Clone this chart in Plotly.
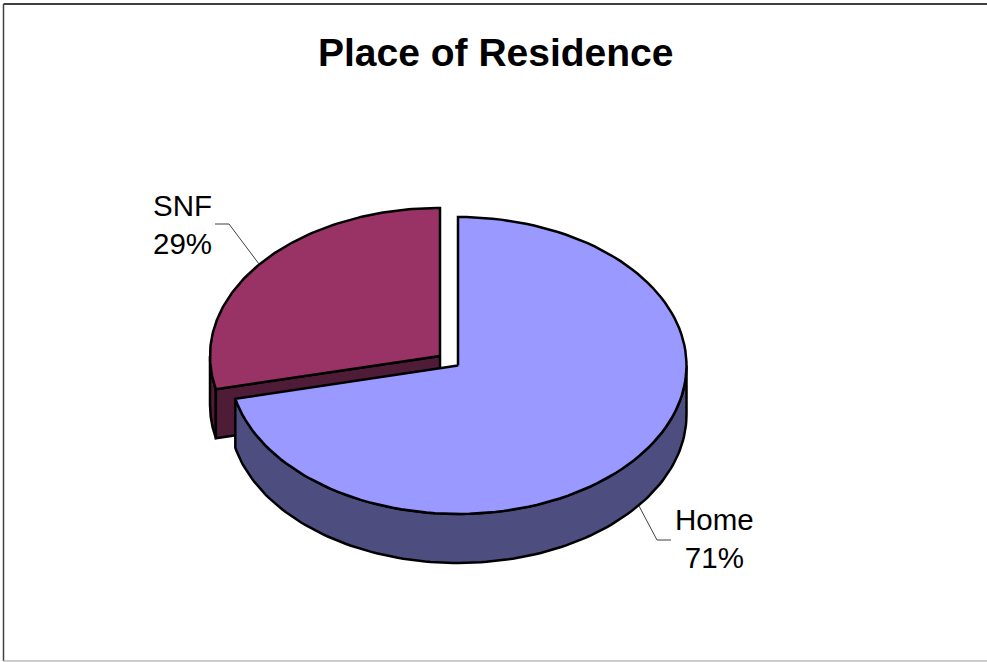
import numpy as np
import plotly.graph_objects as go

categories = ["Home", "SNF"]
values = [71.4, 28.6]
label_text = ["Home<br>71%", "SNF<br>29%"]
title = "Place of Residence"

# pixel geometry of the tilted pie
HOME = dict(cx=458, cy=365.5, rx=228.5, ry=148.5)
SNF = dict(cx=440, cy=356, rx=230, ry=148)
DEPTH = 49
EDGE = 2.5
FONT = "Liberation Sans, Arial, sans-serif"


def arc(g, t0, t1, dy=0, n=120):
    t = np.radians(np.linspace(t0, t1, n))
    return g["cx"] + g["rx"] * np.sin(t), g["cy"] - g["ry"] * np.cos(t) + dy


def top(g, t0, t1, color):
    x, y = arc(g, t0, t1)
    return go.Scatter(x=np.r_[g["cx"], x, g["cx"]], y=np.r_[g["cy"], y, g["cy"]],
                      mode="lines", fill="toself", fillcolor=color,
                      line=dict(color="black", width=EDGE), hoverinfo="skip")


def wall(g, t0, t1, color):
    x0, y0 = arc(g, t0, t1)
    x1, y1 = arc(g, t0, t1, DEPTH)
    return go.Scatter(x=np.r_[x0, x1[::-1], x0[0]], y=np.r_[y0, y1[::-1], y0[0]],
                      mode="lines", fill="toself", fillcolor=color,
                      line=dict(color="black", width=EDGE), hoverinfo="skip")


def cut(g, t, color):
    x, y = arc(g, t, t, n=1)
    xs = [g["cx"], x[0], x[0], g["cx"], g["cx"]]
    ys = [g["cy"], y[0], y[0] + DEPTH, g["cy"] + DEPTH, g["cy"]]
    return go.Scatter(x=xs, y=ys, mode="lines", fill="toself", fillcolor=color,
                      line=dict(color="black", width=EDGE), hoverinfo="skip")


split = 360 * values[0] / sum(values)
fig = go.Figure([
    wall(SNF, split, 270, "#4F1C38"),
    cut(SNF, split, "#4F1C38"),
    top(SNF, split, 360, "#993366"),
    wall(HOME, 90, split, "#4D4D80"),
    top(HOME, 0, split, "#9999FF"),
])

lead = dict(type="line", xref="x", yref="y", line=dict(color="#404040", width=1))
fig.update_layout(
    width=987, height=662, margin=dict(l=0, r=0, t=0, b=0), showlegend=False,
    paper_bgcolor="white", plot_bgcolor="white",
    xaxis=dict(range=[0, 987], visible=False, fixedrange=True),
    yaxis=dict(range=[662, 0], visible=False, fixedrange=True),
    shapes=[
        dict(lead, x0=215, y0=224, x1=229, y1=224),
        dict(lead, x0=229, y0=224, x1=259, y1=264),
        dict(lead, x0=639, y0=506, x1=657, y1=540),
        dict(lead, x0=657, y0=540, x1=671, y1=540),
        dict(type="line", xref="x", yref="y", x0=3.5, y0=4, x1=987, y1=4,
             line=dict(color="black", width=1.5)),
        dict(type="line", xref="x", yref="y", x0=3.5, y0=4, x1=3.5, y1=661,
             line=dict(color="#404040", width=1.5)),
        dict(type="line", xref="x", yref="y", x0=3.5, y0=661, x1=987, y1=661,
             line=dict(color="#BBBBBB", width=1.5)),
    ],
    annotations=[
        dict(x=495.5, y=52, text=f"<b>{title}</b>", font=dict(size=39, color="black", family=FONT)),
        dict(x=714, y=538.5, text=label_text[0], font=dict(size=29.5, color="black", family=FONT)),
        dict(x=182.5, y=224, text=label_text[1], font=dict(size=29.5, color="black", family=FONT)),
    ],
)
for a in fig.layout.annotations:
    a.update(xref="x", yref="y", showarrow=False, align="center", xanchor="center", yanchor="middle")

fig.write_html("out.html", config=dict(displayModeBar=False),
               post_script="document.body.style.margin='0';")
